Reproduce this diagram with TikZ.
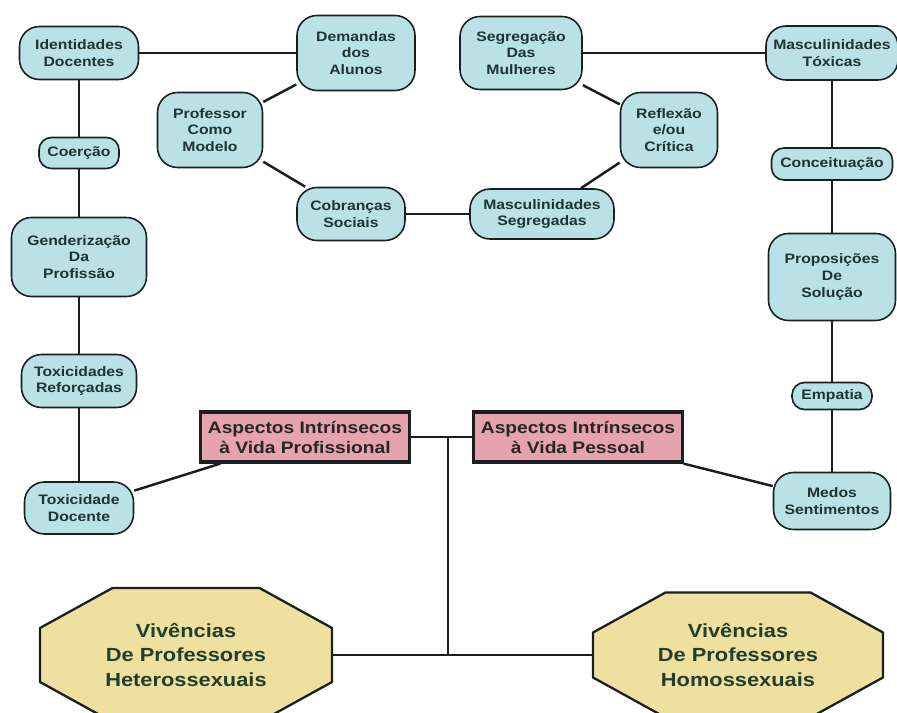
\documentclass[tikz,border=0pt]{standalone}
\usepackage{fontspec}
\setmainfont{Liberation Sans}[FakeStretch=1.15]
\usetikzlibrary{backgrounds}
\definecolor{topicFill}{RGB}{186,225,229}
\definecolor{topicText}{RGB}{30,52,50}
\definecolor{aspectFill}{RGB}{231,163,173}
\definecolor{octaFill}{RGB}{239,224,160}
\definecolor{octaText}{RGB}{34,62,44}
\definecolor{lineGray}{RGB}{25,30,30}
\tikzset{
    dims/.style 2 args={minimum width=#1*0.02cm, minimum height=#2*0.02cm},
    objTopic/.style={rectangle, rounded corners=4mm, fill=topicFill, draw=lineGray, line width=0.9pt, align=center, text=topicText, inner sep=1pt, font=\fontsize{7.8}{9.5}\selectfont\bfseries},
    objSmallTopic/.style={objTopic, rounded corners=2.5mm},
    objAspect/.style={rectangle, fill=aspectFill, draw=lineGray, line width=1.8pt, align=center, text=black!85, inner sep=1pt, font=\fontsize{9.5}{11.4}\selectfont\bfseries},
    objOctagon/.style={rectangle, outer sep=0pt, align=center, text=octaText, inner sep=1pt, font=\fontsize{10.8}{13.7}\selectfont\bfseries},
    octaShape/.style={fill=octaFill, draw=lineGray, line width=1.3pt, line join=round},
    link/.style={line width=1.4pt, draw=lineGray}
}
% octogono achatado em volta de um no
\newcommand{\drawOctagon}[1]{%
    \path[octaShape] ([xshift=1.45cm]#1.north west) -- ([xshift=-1.45cm]#1.north east)
        -- ([yshift=-0.8cm]#1.north east) -- ([yshift=0.8cm]#1.south east)
        -- ([xshift=-1.45cm]#1.south east) -- ([xshift=1.45cm]#1.south west)
        -- ([yshift=0.8cm]#1.south west) -- ([yshift=-0.8cm]#1.north west) -- cycle;}
\begin{document}
\begin{tikzpicture}[x=0.02cm, y=-0.02cm]
    \useasboundingbox (0,0) rectangle (897,713);

    % coluna da esquerda
    \node (idDoc) [objTopic, dims={119}{53}] at (79,53) {Identidades\\Docentes};
    \node (coercao) [objSmallTopic, dims={80}{31}] at (79,153) {Coerção};
    \node (genero) [objTopic, dims={135}{79}] at (79,257) {Genderização\\Da\\Profissão};
    \node (toxRef) [objTopic, dims={115}{53}] at (79,381) {Toxicidades\\Reforçadas};
    \node (toxDoc) [objTopic, dims={109}{52}] at (79,508) {Toxicidade\\Docente};

    % ciclo central
    \node (demandas) [objTopic, dims={118}{75}] at (356,53) {Demandas\\dos\\Alunos};
    \node (professor) [objTopic, dims={105}{75}] at (210,130) {Professor\\Como\\Modelo};
    \node (cobrancas) [objTopic, dims={108}{53}] at (351,214) {Cobranças\\Sociais};
    \node (mascSeg) [objTopic, dims={144}{50}] at (542,214) {Masculinidades\\Segregadas};
    \node (reflexao) [objTopic, dims={97}{75}] at (669,130) {Reflexão\\e/ou\\Crítica};
    \node (segMulheres) [objTopic, dims={122}{73}] at (521,53) {Segregação\\Das\\Mulheres};

    % coluna da direita
    \node (mascTox) [objTopic, dims={132}{54}] at (832,53) {Masculinidades\\Tóxicas};
    \node (conceito) [objSmallTopic, dims={121}{32}] at (832,164) {Conceituação};
    \node (proposicoes) [objTopic, dims={127}{87}] at (832,277) {Proposições\\De\\Solução};
    \node (empatia) [objSmallTopic, dims={80}{27}] at (832,396) {Empatia};
    \node (medos) [objTopic, dims={117}{57}] at (832,501) {Medos\\Sentimentos};

    % aspectos e vivencias
    \node (aspProf) [objAspect, dims={209}{50}] at (305,437) {Aspectos Intrínsecos\\à Vida Profissional};
    \node (aspPes) [objAspect, dims={209}{50}] at (578,437) {Aspectos Intrínsecos\\à Vida Pessoal};
    \node (hetero) [objOctagon, dims={292}{134}] at (186,655) {Vivências\\De Professores\\Heterossexuais};
    \node (homo) [objOctagon, dims={290}{125}] at (738,655) {Vivências\\De Professores\\Homossexuais};

    \begin{scope}[on background layer]
        \drawOctagon{hetero}
        \drawOctagon{homo}
    \end{scope}

    \coordinate (topJoin) at (448,437);
    \coordinate (bottomJoin) at (448,655);

    \draw[link] (idDoc) -- (coercao);
    \draw[link] (coercao) -- (genero);
    \draw[link] (genero) -- (toxRef);
    \draw[link] (toxRef) -- (toxDoc);
    \draw[link] (toxDoc) -- (aspProf);

    \draw[link] (idDoc) -- (demandas);
    \draw[link] (demandas) -- (professor);
    \draw[link] (professor) -- (cobrancas);
    \draw[link] (cobrancas) -- (mascSeg);
    \draw[link] (mascSeg) -- (reflexao);
    \draw[link] (reflexao) -- (segMulheres);
    \draw[link] (segMulheres) -- (mascTox);

    \draw[link] (mascTox) -- (conceito);
    \draw[link] (conceito) -- (proposicoes);
    \draw[link] (proposicoes) -- (empatia);
    \draw[link] (empatia) -- (medos);
    \draw[link] (medos) -- (aspPes);

    \draw[link] (aspProf) -- (aspPes);
    \draw[link] (topJoin) -- (bottomJoin);
    \draw[link] (hetero.east) -- (homo.west);

\end{tikzpicture}
\end{document}
